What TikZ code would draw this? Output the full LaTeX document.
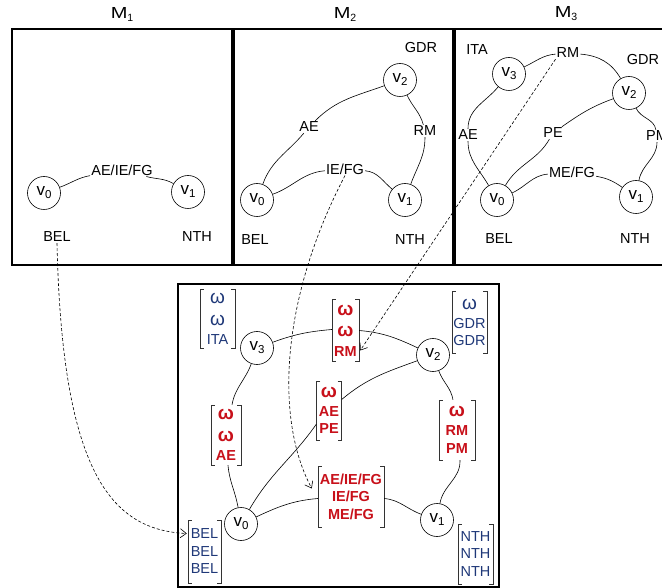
\documentclass[tikz,border=0pt]{standalone}
\usepackage{fontspec}
\setmainfont{Liberation Sans}
\usetikzlibrary{arrows.meta,calc}
\definecolor{myred}{RGB}{200,16,26}
\definecolor{myblue}{RGB}{31,56,120}
\newcommand\om{{\fontsize{19}{19}\selectfont ω}}
\newcommand\vx[1]{{\fontsize{17}{17}\selectfont v}\raisebox{-3pt}{\fontsize{11.5}{11.5}\selectfont #1}}
\newcommand\Mx[1]{{\fontsize{16}{16}\selectfont\scalebox{1.25}[1]{M}}\raisebox{-3pt}{\fontsize{10.5}{10.5}\selectfont #1}}
\newcommand\bkt[1]{\draw[black!80,line width=0.6pt] ([xshift=4pt]#1.north west) -| (#1.south west) -- ++(4pt,0) ([xshift=-4pt]#1.north east) -| (#1.south east) -- ++(-4pt,0);}
\tikzset{
  vert/.style={circle, draw, line width=0.6pt, minimum size=33pt, inner sep=0pt},
  lbl/.style={inner sep=1pt, font=\fontsize{14.5}{16}\selectfont},
  bk/.style={inner sep=0pt, align=center, font=\fontsize{14.5}{17.5}\selectfont},
  rbk/.style={bk, text=myred, font=\bfseries\fontsize{14.5}{17.5}\selectfont},
  bbk/.style={bk, text=myblue},
  frame/.style={draw, line width=1.4pt},
  edge/.style={line width=0.6pt},
  dsh/.style={line width=0.6pt, dash pattern=on 3pt off 2pt, -{Straight Barb[length=6pt,width=9pt]}}
}
\begin{document}
\begin{tikzpicture}[x=1pt,y=-1pt]
\clip (0,0) rectangle (662,588);
\fill[white] (0,0) rectangle (662,588);
% frames
\draw[frame] (12,29) rectangle (232,265);
\draw[frame] (234,29) rectangle (453,265);
\draw[frame] (455,29) rectangle (672,265);
\draw[frame] (178,284) rectangle (499,587);
% titles
\node[lbl] (m1) at (122,14) {\Mx{1}};
\node[lbl] (m2) at (345,14) {\Mx{2}};
\node[lbl] (m3) at (566,14) {\Mx{3}};
% ---- M1
\node[vert] (a0) at (44,193) {\vx{0}};
\node[vert] (a1) at (188,192) {\vx{1}};
\node[lbl] (a01) at (122,170) {AE/IE/FG};
\node[lbl] (abel) at (57,237) {BEL};
\node[lbl] (anth) at (197,237) {NTH};
\draw[edge] (a0) to[out=20,in=190] (a01);
\draw[edge] (a01) to[out=-15,in=150] (a1);
% ---- M2
\node[vert] (b0) at (257,200) {\vx{0}};
\node[vert] (b1) at (405,200) {\vx{1}};
\node[vert] (b2) at (400,80) {\vx{2}};
\node[lbl] (bae) at (309,127) {AE};
\node[lbl] (brm) at (425,131) {RM};
\node[lbl] (bif) at (345,169) {IE/FG};
\node[lbl] (bgdr) at (421,48) {GDR};
\node[lbl] (bbel) at (255,240) {BEL};
\node[lbl] (bnth) at (410,240) {NTH};
\draw[edge] (b0) to[out=70,in=-130] (bae);
\draw[edge] (bae) to[out=45,in=200] (b2);
\draw[edge] (b0) to[out=20,in=185] (bif);
\draw[edge] (bif) to[out=-5,in=140] (b1);
\draw[edge] (b2) to[out=-65,in=105] (brm);
\draw[edge] (brm) to[out=-90,in=70] (b1);
% ---- M3
\node[vert] (c3) at (509,74) {\vx{3}};
\node[vert] (c2) at (629,93) {\vx{2}};
\node[vert] (c0) at (497,200) {\vx{0}};
\node[vert] (c1) at (636,197) {\vx{1}};
\node[lbl] (cita) at (477,50) {ITA};
\node[lbl] (crm) at (568,53) {RM};
\node[lbl] (cgdr) at (643,60) {GDR};
\node[lbl] (cae) at (468,135) {AE};
\node[lbl] (cpe) at (553,133) {PE};
\node[lbl] (cpm) at (657,136) {PM};
\node[lbl] (cme) at (572,172) {ME/FG};
\node[lbl] (cbel) at (499,239) {BEL};
\node[lbl] (cnth) at (635,239) {NTH};
\draw[edge] (c3) to[out=25,in=185] (crm);
\draw[edge] (crm) to[out=-5,in=120] (c2);
\draw[edge] (c3) to[out=-130,in=90] (cae);
\draw[edge] (cae) to[out=-90,in=120] (c0);
\draw[edge] (c2) to[out=200,in=35] (cpe);
\draw[edge] (cpe) to[out=-120,in=60] (c0);
\draw[edge] (c0) to[out=25,in=185] (cme);
\draw[edge] (cme) to[out=-10,in=145] (c1);
\draw[edge] (c2) to[out=-65,in=100] (cpm);
\draw[edge] (cpm) to[out=-90,in=80] (c1);
% ---- merged graph
\node[vert] (d3) at (257,348) {\vx{3}};
\node[vert] (d2) at (433,355) {\vx{2}};
\node[vert] (d0) at (241,524) {\vx{0}};
\node[vert] (d1) at (437,520) {\vx{1}};
\node[bbk, minimum width=35pt, minimum height=58pt] (kita) at (217.5,319) {\om\\[4pt]\om\\[2pt]ITA};
\node[rbk, minimum width=27pt, minimum height=61pt] (krm) at (345.5,330.5) {\om\\[4pt]\om\\[2pt]RM};
\node[rbk, minimum width=25pt, minimum height=59pt] (kaepe) at (329,410.5) {\om\\[1.5pt]AE\\PE};
\node[rbk, minimum width=30pt, minimum height=60pt] (kae) at (226,435) {\om\\[4pt]\om\\[2pt]AE};
\node[bbk, minimum width=35pt, minimum height=61pt] (kgdr) at (469.5,322.5) {\om\\[1pt]GDR\\GDR};
\node[rbk, minimum width=36pt, minimum height=60pt] (krmpm) at (457,430) {\om\\[1.5pt]RM\\PM};
\node[rbk, minimum width=66pt, minimum height=61pt] (kaif) at (351,496.5) {AE/IE/FG\\IE/FG\\ME/FG};
\node[bbk, minimum width=33pt, minimum height=63pt] (kbel) at (204.5,551.5) {BEL\\BEL\\BEL};
\node[bbk, minimum width=35pt, minimum height=60pt] (knth) at (475.5,554) {NTH\\NTH\\NTH};
\bkt{kita}\bkt{krm}\bkt{kaepe}\bkt{kae}\bkt{kgdr}\bkt{krmpm}\bkt{kaif}\bkt{kbel}\bkt{knth}
\draw[edge] (d3) to[out=20,in=185] ($(krm.west)+(0,-1)$);
\draw[edge] ($(krm.east)+(0,0)$) to[out=-5,in=155] (d2);
\draw[edge] (d2) to[out=200,in=40] ($(kaepe.east)+(0,-11)$);
\draw[edge] ($(kaepe.south west)+(0,-16)$) to[out=235,in=60] (d0);
\draw[edge] (d3) to[out=-110,in=80] ($(kae.north)+(6,0)$);
\draw[edge] ($(kae.south)+(2,0)$) to[out=-85,in=100] (d0);
\draw[edge] (d2) to[out=-70,in=100] ($(krmpm.north)+(-4,0)$);
\draw[edge] ($(krmpm.south)+(3,0)$) to[out=-88,in=80] (d1);
\draw[edge] (d0) to[out=25,in=185] ($(kaif.west)+(0,2)$);
\draw[edge] ($(kaif.east)+(0,2)$) to[out=-5,in=160] (d1);
% ---- dashed arrows
\coordinate (tbel) at ($(kbel.west)+(-1,-18)$);
\coordinate (taif) at ($(kaif.west)+(-6,-8)$);
\coordinate (trm) at ($(krm.east)+(1,20)$);
\draw[dsh] (abel.south) .. controls (62,470) and (110,530) .. (tbel);
\draw[dsh] (bif.south) .. controls (280,300) and (275,420) .. (taif);
\draw[dsh] (crm.south west) -- (trm);
\end{tikzpicture}
\end{document}
